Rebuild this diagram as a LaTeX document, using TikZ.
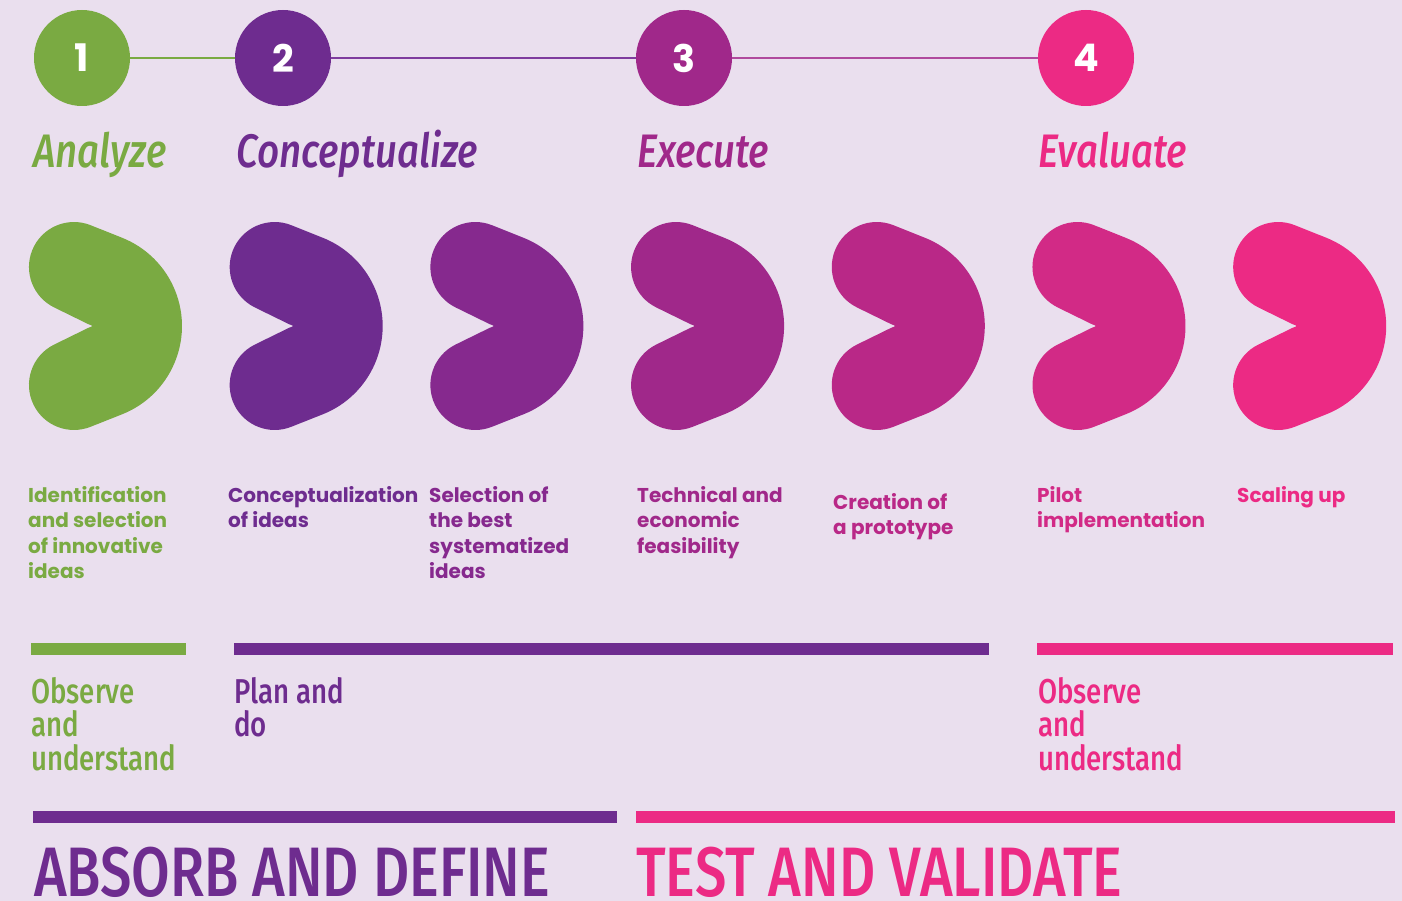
\documentclass[tikz,border=0pt]{standalone}
\usepackage{fontspec}
\newfontfamily\bodyfont{Poppins}
\newfontfamily\condfont[FakeStretch=0.8, UprightFont={* Medium}, ItalicFont={* Medium Italic}]{Fira Sans}
\newfontfamily\headfont[FakeStretch=0.82, UprightFont={* Medium}, ItalicFont={* Medium Italic}]{Fira Sans}
\definecolor{bgcol}{HTML}{EADFEE}
\definecolor{cgreen}{HTML}{7AAA42}
\definecolor{cpurple}{HTML}{6E2C8F}
\definecolor{cthree}{HTML}{86298E}
\definecolor{cfour}{HTML}{A0288A}
\definecolor{cfive}{HTML}{B92887}
\definecolor{csix}{HTML}{D22A86}
\definecolor{cpink}{HTML}{EC2A84}
\definecolor{linktwo}{HTML}{7F3C9E}
\definecolor{linkthree}{HTML}{B04A9D}
\tikzset{
  stepcirc/.style={circle, minimum size=96pt, inner sep=0pt, text=white,
    font=\bodyfont\bfseries\fontsize{38}{38}\selectfont},
  phase/.style={anchor=base west, inner sep=0pt, font=\headfont\itshape\fontsize{47}{47}\selectfont},
  task/.style={anchor=north west, inner sep=0pt, align=left,
    font=\bodyfont\bfseries\fontsize{20}{25.5}\selectfont},
  mode/.style={anchor=north west, inner sep=0pt, align=left,
    font=\condfont\fontsize{34.5}{33.5}\selectfont},
  stage/.style={anchor=base west, inner sep=0pt, font=\condfont\fontsize{70}{70}\selectfont},
  link/.style={line width=1.5pt}
}
\begin{document}
\begin{tikzpicture}[x=1pt, y=-1pt]
  \fill[bgcol] (0,0) rectangle (1402,901);   %background
  \useasboundingbox (0,0) rectangle (1402,901);
  % steps and their links
  \node[stepcirc, fill=cgreen] (s1) at (82,58) {1};
  \node[stepcirc, fill=cpurple] (s2) at (283,58) {2};
  \node[stepcirc, fill=cfour] (s3) at (684,58) {3};
  \node[stepcirc, fill=cpink] (s4) at (1086,58) {4};
  \draw[link, cgreen] (s1) -- (s2);
  \draw[link, linktwo] (s2) -- (s3);
  \draw[link, linkthree] (s3) -- (s4);
  \node[phase, text=cgreen] (analyze) at (33,168) {Analyze};
  \node[phase, text=cpurple] (concept) at (236,168) {Conceptualize};
  \node[phase, text=cfour] (execute) at (637,168) {Execute};
  \node[phase, text=cpink] (evaluate) at (1038,168) {Evaluate};
  % kidney shapes
  \foreach \i/\c in {0/cgreen, 1/cpurple, 2/cthree, 3/cfour, 4/cfive, 5/csix, 6/cpink}
    \fill[\c, shift={(74+200.7*\i,326)}] (-19.9,-18.6) -- (14.4,-1.8) .. controls (19.5,0) .. (14.4,1.8)
      -- (-19.9,18.6) arc[start angle=243.8, end angle=68.3, radius=45]
      -- (48.1,88.3) arc[start angle=68.3, end angle=-68.3, radius=95]
      -- (16.6,-100.8) arc[start angle=-68.3, end angle=-243.8, radius=45] -- cycle;
  % tasks
  \node[task, text=cgreen] (t1) at (28,486) {Identification\\and selection\\of innovative\\ideas};
  \node[task, text=cpurple] (t2) at (228,486) {Conceptualization\\of ideas};
  \node[task, text=cthree] (t3) at (429,486) {Selection of\\the best\\systematized\\ideas};
  \node[task, text=cfour] (t4) at (637,486) {Technical and\\economic\\feasibility};
  \node[task, text=cfive] (t5) at (833,493) {Creation of\\a prototype};
  \node[task, text=csix] (t6) at (1037,486) {Pilot\\implementation};
  \node[task, text=cpink] (t7) at (1237,486) {Scaling up};
  % modes
  \fill[cgreen] (31,643) rectangle (186,655);
  \fill[cpurple] (234,643) rectangle (989,655);
  \fill[cpink] (1037,643) rectangle (1393,655);
  \node[mode, text=cgreen] (m1) at (31,677) {Observe\\and\\understand};
  \node[mode, text=cpurple] (m2) at (234,677) {Plan and\\do};
  \node[mode, text=cpink] (m3) at (1038,677) {Observe\\and\\understand};
  % stages
  \fill[cpurple] (33,811) rectangle (617,823);
  \fill[cpink] (636,811) rectangle (1395,823);
  \node[stage, text=cpurple] (absorb) at (34,896) {ABSORB AND DEFINE};
  \node[stage, text=cpink] (test) at (636,896) {TEST AND VALIDATE};
\end{tikzpicture}
\end{document}
